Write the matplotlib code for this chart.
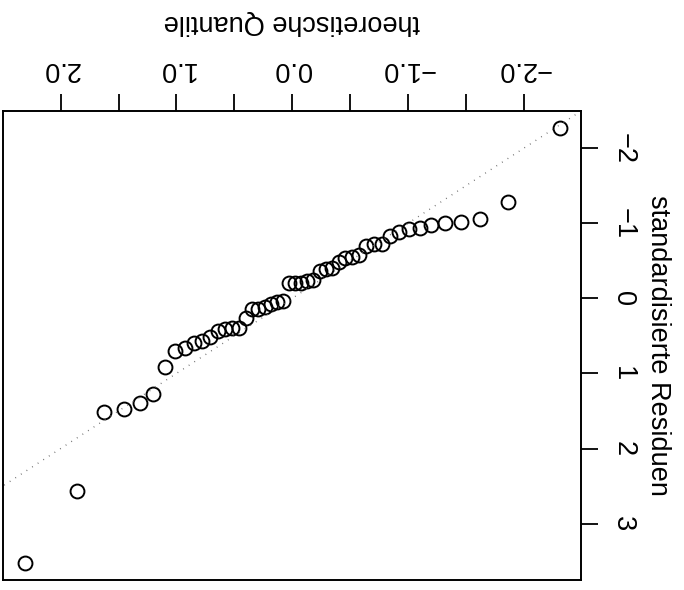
import matplotlib
matplotlib.use('agg')
import matplotlib.pyplot as plt

plt.rcParams['font.family'] = ['Liberation Sans', 'DejaVu Sans']

# theoretical normal quantiles, n = 48
quantiles = [-2.311, -1.863, -1.625, -1.455, -1.318, -1.203, -1.101, -1.010,
             -0.926, -0.849, -0.776, -0.708, -0.642, -0.579, -0.519, -0.460,
             -0.402, -0.346, -0.291, -0.237, -0.184, -0.131, -0.078, -0.026,
             0.026, 0.078, 0.131, 0.184, 0.237, 0.291, 0.346, 0.402,
             0.460, 0.519, 0.579, 0.642, 0.708, 0.776, 0.849, 0.926,
             1.010, 1.101, 1.203, 1.318, 1.455, 1.625, 1.863, 2.311]

# sorted standardized residuals
residuals = [-2.27, -1.28, -1.06, -1.02, -1.00, -0.98, -0.94, -0.93,
             -0.88, -0.83, -0.73, -0.72, -0.70, -0.58, -0.55, -0.54,
             -0.48, -0.41, -0.39, -0.37, -0.25, -0.23, -0.20, -0.20,
             -0.20, 0.03, 0.05, 0.08, 0.12, 0.14, 0.14, 0.26,
             0.39, 0.40, 0.41, 0.44, 0.52, 0.57, 0.60, 0.66,
             0.70, 0.92, 1.28, 1.40, 1.47, 1.51, 2.57, 3.52]

x_ticks = [-2.0, -1.5, -1.0, -0.5, 0.0, 0.5, 1.0, 1.5, 2.0]
x_ticklabels = ['\u22122.0', '', '\u22121.0', '', '0.0', '', '1.0', '', '2.0']
y_ticks = [-2, -1, 0, 1, 2, 3]
y_ticklabels = ['\u22122', '\u22121', '0', '1', '2', '3']

fs = 19.5

fig = plt.figure(figsize=(6.84, 5.90), dpi=100)
ax = fig.add_axes([0.0048, 0.017, 0.8446, 0.7954])

ax.plot(quantiles, residuals, 'o', mfc='none', mec='black', ms=10, mew=1.4)
ax.axline((0, 0), slope=1, color='#666666', lw=1.0, ls=(0, (0.6, 4.2)))

# range padded by 4% like R
xr = max(quantiles) - min(quantiles)
yr = max(residuals) - min(residuals)
ax.set_xlim(max(quantiles) + 0.04 * xr, min(quantiles) - 0.04 * xr)
ax.set_ylim(max(residuals) + 0.04 * yr, min(residuals) - 0.04 * yr)

ax.xaxis.tick_top()
ax.xaxis.set_label_position('top')
ax.yaxis.tick_right()
ax.yaxis.set_label_position('right')

ax.set_xticks(x_ticks)
ax.set_xticklabels(x_ticklabels, rotation=180, fontsize=fs)
ax.set_yticks(y_ticks)
ax.set_yticklabels(y_ticklabels, rotation=-90, fontsize=fs, va='center')
ax.tick_params(axis='x', length=12.5, width=1.3, direction='out', pad=8.5)
ax.tick_params(axis='y', length=12.5, width=1.3, direction='out', pad=8.5)

ax.set_xlabel('theoretische Quantile', fontsize=fs, rotation=180, labelpad=19)
ax.set_ylabel('standardisierte Residuen', fontsize=fs, rotation=-90, labelpad=16,
              va='center')

for s in ax.spines.values():
    s.set_linewidth(1.4)

fig.savefig('out.png', dpi=100)
